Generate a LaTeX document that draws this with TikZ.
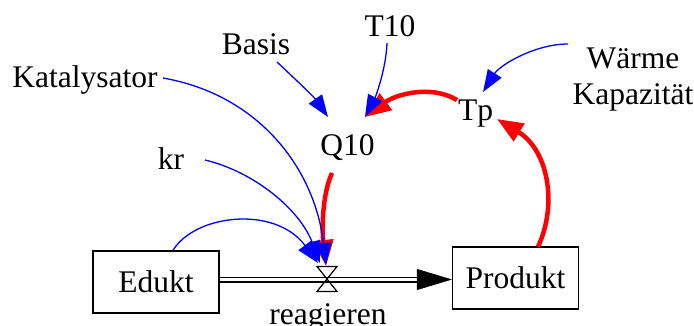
\documentclass[tikz,border=0pt]{standalone}
\usepackage{fontspec}
\setmainfont{Liberation Serif}
\usetikzlibrary{arrows.meta,calc}
\begin{document}
\begin{tikzpicture}[x=1pt,y=-1pt,
  every node/.style={font=\fontsize{31.5}{36.5}\selectfont, inner sep=0pt},
  lbl/.style={anchor=base},
  stock/.style={draw, line width=1.3pt, minimum width=126pt, minimum height=62pt},
  infolink/.style={draw=blue, line width=1.3pt, -{Triangle[length=22pt,width=16pt]}, fill=none},
  redlink/.style={draw=red, line width=4.5pt, -{Triangle[length=26pt,width=20pt]}},
  pipe/.style={draw, line width=1.3pt, double distance=3.4pt},
]
\useasboundingbox (0,0) rectangle (694,326);
% nodes
\node[lbl] (kat) at (85,87.5) {Katalysator};
\node[lbl] (basis) at (256,55) {Basis};
\node[lbl] (t10) at (390,36.5) {T10};
\node[lbl] (q10) at (347.5,156) {Q10};
\node[lbl] (kr) at (171,170) {kr};
\node[lbl] (tp) at (475.5,120.5) {Tp};
\node[align=center] (waerme) at (633,79.5) {Wärme\\Kapazität};
\node[stock] (edukt) at (156,282) {Edukt};
\node[stock] (produkt) at (515.5,278) {Produkt};
\coordinate (valve) at (327,279);
\node[lbl] (reag) at (328,324) {reagieren};
% pipe
\coordinate (pipeL) at ($(edukt.east)+(0,-2.5)$);
\coordinate (pipeR) at ($(produkt.west)+(-33,1.5)$);
\draw[pipe] (pipeL) -- (pipeR);
\draw[line width=0.5pt, -{Triangle[length=35pt,width=21pt]}] ($(pipeR)+(-2,0)$) -- (pipeR -| produkt.west);
% valve
\draw[line width=1.2pt, line join=miter] ($(valve)+(-10,-12.5)$) -- ($(valve)+(10,-12.5)$) -- ($(valve)+(-10,12.5)$) -- ($(valve)+(10,12.5)$) -- cycle;
% red links
\draw[redlink] ($(q10.base)+(-15.5,17)$) .. controls +(-10,22) and +(-4,-36) .. ($(valve)+(-1,-13)$);
\draw[redlink] ($(tp.base)+(-18.5,-20.5)$) .. controls +(-27,-16) and +(30,-22) .. ($(q10.base)+(17.5,-39)$);
\draw[redlink] ($(produkt.north)+(22.5,0.5)$) .. controls +(20,-43) and +(51,31) .. ($(tp.base)+(21.5,-1.5)$);
% blue links
\draw[infolink] ($(basis.base)+(21,7)$) .. controls +(15,14) and +(-14,-20) .. ($(q10.base)+(-19.5,-39)$);
\draw[infolink] ($(t10.base)+(-3,6.5)$) .. controls +(-1,27) and +(10,-19) .. ($(q10.base)+(17.5,-39)$);
\draw[infolink] ($(waerme.center)+(-65,-35.5)$) .. controls +(-33,0) and +(17,-27) .. ($(tp.base)+(7.5,-28.5)$);
\draw[infolink] ($(kat.base)+(78,-9.5)$) .. controls +(97,17) and +(-11,-95) .. ($(valve)+(-1,-14)$);
\draw[infolink] ($(kr.base)+(34,-10)$) .. controls +(50,12) and +(-20,-53) .. ($(valve)+(-7,-16)$);
\draw[infolink] ($(edukt.north)+(17,0)$) .. controls +(22,-36) and +(-43,-58) .. ($(valve)+(-9,-16)$);
\end{tikzpicture}
\end{document}
